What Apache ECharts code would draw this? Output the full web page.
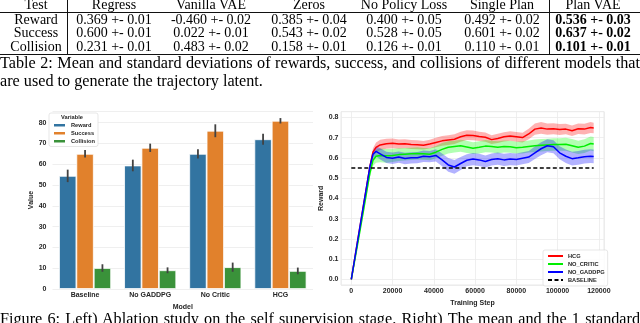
<!DOCTYPE html>
<html>
<head>
<meta charset="utf-8">
<script src="https://cdn.jsdelivr.net/npm/echarts@6/dist/echarts.min.js"></script>
<style>
  body { margin: 0; background: #fff; }
  #page { position: relative; width: 640px; height: 323px; overflow: hidden; font-family: 'Liberation Serif', 'DejaVu Serif', serif; color: #000; }
  #chart-area { position: absolute; left: 0; top: 0; width: 640px; height: 323px; }
  .cell { position: absolute; font-size: 14px; line-height: 14px; white-space: nowrap; transform: translateX(-50%); }
  .bold { font-weight: bold; }
  .rule { position: absolute; background: #111; }
  .line { position: absolute; left: 0; width: 640px; font-size: 16.2px; line-height: 18px; white-space: nowrap; }
  .justify { text-align: justify; text-align-last: justify; }
</style>
</head>
<body>
<div id="page">
  <div id="chart-area"></div>
  <div id="table"></div>
  <div class="line justify" style="top:54px">Table 2: Mean and standard deviations of rewards, success, and collisions of different models that</div>
  <div class="line" style="top:72px">are used to generate the trajectory latent.</div>
  <div class="line justify" style="top:310px">Figure 6: Left) Ablation study on the self supervision stage. Right) The mean and the 1 standard</div>
</div>

<script>
// table 2
const tableHeader = ['Test', 'Regress', 'Vanilla VAE', 'Zeros', 'No Policy Loss', 'Single Plan', 'Plan VAE']
const tableRows = [
  ['Reward', '0.369 +- 0.01', '-0.460 +- 0.02', '0.385 +- 0.04', '0.400 +- 0.05', '0.492 +- 0.02', '0.536 +- 0.03'],
  ['Success', '0.600 +- 0.01', '0.022 +- 0.01', '0.543 +- 0.02', '0.528 +- 0.05', '0.601 +- 0.02', '0.637 +- 0.02'],
  ['Collision', '0.231 +- 0.01', '0.483 +- 0.02', '0.158 +- 0.01', '0.126 +- 0.01', '0.110 +- 0.01', '0.101 +- 0.01']
]

// left panel: ablation bars
const models = ['Baseline', 'No GADDPG', 'No Critic', 'HCG']
const rewardMean = [54.4, 59.4, 65.0, 72.0]
const rewardErr = [3.0, 2.8, 2.2, 2.6]
const successMean = [65.0, 67.9, 76.1, 80.9]
const successErr = [1.8, 2.0, 3.1, 1.3]
const collisionMean = [10.1, 9.0, 10.5, 8.7]
const collisionErr = [1.8, 1.4, 2.2, 1.6]

// right panel: reward during training
const steps = [0, 3000, 6000, 9000, 10500, 12000, 14000, 17000, 20000, 23000,
  26000, 29000, 32000, 35000, 38000, 41000, 44000, 47000, 50000, 53000,
  56000, 59000, 62000, 65000, 68000, 71000, 74000, 77000, 80000, 83000,
  86000, 89000, 92000, 95000, 98000, 101000, 104000, 107000, 110000, 113000,
  116000, 117500]
const hcgMean = [0, 0.186, 0.372, 0.556, 0.628, 0.652, 0.664, 0.670, 0.672, 0.668,
  0.670, 0.666, 0.665, 0.662, 0.668, 0.676, 0.684, 0.688, 0.692, 0.704,
  0.712, 0.711, 0.706, 0.702, 0.690, 0.696, 0.704, 0.708, 0.704, 0.700,
  0.718, 0.742, 0.748, 0.742, 0.744, 0.740, 0.742, 0.734, 0.744, 0.742,
  0.750, 0.748]
const hcgStd = [0, 0.006, 0.010, 0.015, 0.020, 0.024, 0.025, 0.025, 0.024, 0.023,
  0.022, 0.022, 0.022, 0.021, 0.022, 0.023, 0.024, 0.024, 0.024, 0.025,
  0.024, 0.024, 0.023, 0.023, 0.022, 0.023, 0.023, 0.024, 0.024, 0.024,
  0.026, 0.028, 0.029, 0.028, 0.027, 0.027, 0.026, 0.026, 0.026, 0.027,
  0.027, 0.026]
const noCriticMean = [0, 0.170, 0.345, 0.525, 0.588, 0.608, 0.612, 0.610, 0.612, 0.616,
  0.618, 0.620, 0.622, 0.620, 0.618, 0.628, 0.642, 0.652, 0.656, 0.660,
  0.654, 0.648, 0.652, 0.658, 0.656, 0.652, 0.656, 0.655, 0.650, 0.652,
  0.656, 0.660, 0.662, 0.664, 0.666, 0.666, 0.667, 0.660, 0.652, 0.658,
  0.671, 0.668]
const noCriticStd = [0, 0.008, 0.012, 0.020, 0.028, 0.032, 0.034, 0.034, 0.033, 0.032,
  0.031, 0.030, 0.030, 0.029, 0.030, 0.030, 0.031, 0.030, 0.029, 0.030,
  0.030, 0.029, 0.030, 0.030, 0.029, 0.030, 0.030, 0.030, 0.029, 0.030,
  0.030, 0.031, 0.031, 0.030, 0.031, 0.031, 0.032, 0.033, 0.033, 0.034,
  0.035, 0.035]
const noGaddpgMean = [0, 0.186, 0.372, 0.556, 0.618, 0.632, 0.620, 0.602, 0.598, 0.604,
  0.597, 0.600, 0.601, 0.608, 0.606, 0.612, 0.590, 0.565, 0.555, 0.572,
  0.588, 0.594, 0.590, 0.582, 0.592, 0.596, 0.590, 0.594, 0.592, 0.598,
  0.604, 0.625, 0.645, 0.660, 0.655, 0.625, 0.608, 0.596, 0.600, 0.606,
  0.608, 0.607]
const noGaddpgStd = [0, 0.006, 0.010, 0.015, 0.020, 0.025, 0.028, 0.028, 0.028, 0.028,
  0.028, 0.028, 0.028, 0.028, 0.028, 0.030, 0.032, 0.034, 0.034, 0.032,
  0.030, 0.030, 0.030, 0.030, 0.030, 0.030, 0.030, 0.030, 0.030, 0.030,
  0.030, 0.031, 0.032, 0.032, 0.032, 0.032, 0.033, 0.034, 0.034, 0.034,
  0.034, 0.034]
const baselineSteps = [0, 117500]
const baselineReward = [0.55, 0.55]

// ---- table (html text) ----
const colCenters = [36, 114, 211, 309, 404, 502, 593]
const rowCenters = [5, 19.5, 33, 46.5]
const tableBox = document.getElementById('table')
function addCell(text, x, y, bold) {
  const d = document.createElement('div')
  d.className = 'cell' + (bold ? ' bold' : '')
  d.style.left = x + 'px'
  d.style.top = (y - 7) + 'px'
  d.textContent = text
  tableBox.appendChild(d)
}
function addRule(l, t, w, h) {
  const d = document.createElement('div')
  d.className = 'rule'
  d.style.cssText = `left:${l}px;top:${t}px;width:${w}px;height:${h}px`
  tableBox.appendChild(d)
}
tableHeader.forEach((h, c) => addCell(h, colCenters[c], rowCenters[0], false))
tableRows.forEach((row, r) => {
  row.forEach((v, c) => addCell(v, colCenters[c], rowCenters[r + 1], c === 6))
})
addRule(0, 11.5, 640, 1)
addRule(0, 54, 640, 1)
addRule(67, 0, 1, 55)
addRule(549, 0, 1, 55)

// ---- charts ----
const tickFont = { fontSize: 7, fontWeight: 'bold', color: '#262626', fontFamily: 'Liberation Sans' }
const legendFont = { fontSize: 5.7, fontWeight: 'bold', color: '#262626', fontFamily: 'Liberation Sans' }

function barSeries(name, data, color) {
  return {
    name: name,
    type: 'bar',
    xAxisIndex: 0,
    yAxisIndex: 0,
    data: data,
    barGap: '0%',
    barCategoryGap: '20%',
    itemStyle: { color: color, borderColor: '#fff', borderWidth: 0.8 },
    z: 2
  }
}

// k = bar position in its group (0,1,2)
function errSeries(k, mean, err) {
  return {
    type: 'custom',
    xAxisIndex: 0,
    yAxisIndex: 0,
    silent: true,
    z: 4,
    data: mean.map((m, i) => [i, m - err[i], m + err[i]]),
    encode: { x: 0, y: [1, 2] },
    renderItem: function (params, api) {
      const bw = api.size([1, 0])[0] * 0.8 / 3
      const off = (k - 1) * bw
      const lo = api.coord([api.value(0), api.value(1)])
      const hi = api.coord([api.value(0), api.value(2)])
      return {
        type: 'line',
        shape: { x1: lo[0] + off, y1: lo[1], x2: hi[0] + off, y2: hi[1] },
        style: { stroke: '#424242', lineWidth: 1.8 }
      }
    }
  }
}

function bandSeries(mean, std, color) {
  return {
    type: 'custom',
    xAxisIndex: 1,
    yAxisIndex: 1,
    silent: true,
    z: 1,
    data: steps.map((s, i) => [s, mean[i] - std[i], mean[i] + std[i]]),
    encode: { x: 0, y: [1, 2] },
    renderItem: function (params, api) {
      if (params.dataIndex !== 0) return null
      const up = []
      const dn = []
      for (let i = 0; i < steps.length; i++) {
        up.push(api.coord([steps[i], mean[i] + std[i]]))
        dn.push(api.coord([steps[i], mean[i] - std[i]]))
      }
      return {
        type: 'polygon',
        shape: { points: up.concat(dn.reverse()) },
        style: { fill: color }
      }
    }
  }
}

function lineSeries(name, xs, ys, color, dashed) {
  return {
    name: name,
    type: 'line',
    xAxisIndex: 1,
    yAxisIndex: 1,
    data: xs.map((s, i) => [s, ys[i]]),
    symbol: 'none',
    showSymbol: false,
    lineStyle: { color: color, width: 1.5, type: dashed ? [4, 2.5] : 'solid' },
    itemStyle: { color: color },
    z: 3
  }
}

const chart = echarts.init(document.getElementById('chart-area'), null, { renderer: 'canvas' })
chart.setOption({
  animation: false,
  grid: [
    { left: 52.5, top: 111, width: 260.5, height: 178 },
    { left: 341, top: 111.7, width: 263, height: 173.3, show: true, borderColor: '#e3e3e3', borderWidth: 0.8, backgroundColor: '#fff' }
  ],
  xAxis: [
    {
      type: 'category',
      gridIndex: 0,
      data: models,
      axisTick: { show: false },
      axisLine: { show: false },
      axisLabel: Object.assign({ margin: 2.5 }, tickFont),
      name: 'Model',
      nameLocation: 'middle',
      nameGap: 8,
      nameTextStyle: tickFont
    },
    {
      type: 'value',
      gridIndex: 1,
      min: -5000,
      max: 122500,
      splitNumber: 6,
      axisTick: { show: false },
      axisLine: { show: false },
      axisLabel: Object.assign({
        margin: 3,
        showMinLabel: false,
        showMaxLabel: false,
        formatter: v => (v % 20000 === 0 ? String(v) : '')
      }, tickFont),
      splitLine: { show: true, lineStyle: { color: '#ebebeb', width: 0.8 } },
      name: 'Training Step',
      nameLocation: 'middle',
      nameGap: 11,
      nameTextStyle: tickFont
    }
  ],
  yAxis: [
    {
      type: 'value',
      gridIndex: 0,
      min: 0,
      max: 85.6,
      interval: 10,
      axisTick: { show: false },
      axisLine: { show: false },
      axisLabel: Object.assign({ margin: 6, showMaxLabel: false }, tickFont),
      splitLine: { lineStyle: { color: '#ebebeb', width: 0.8 } },
      name: 'Value',
      nameLocation: 'middle',
      nameGap: 15,
      nameTextStyle: tickFont
    },
    {
      type: 'value',
      gridIndex: 1,
      min: -0.028,
      max: 0.828,
      splitNumber: 8,
      axisTick: { show: false },
      axisLine: { show: false },
      axisLabel: Object.assign({
        margin: 2.5,
        showMinLabel: false,
        showMaxLabel: false,
        formatter: v => (Math.abs(v * 10 - Math.round(v * 10)) < 1e-6 ? v.toFixed(1) : '')
      }, tickFont),
      splitLine: { lineStyle: { color: '#ebebeb', width: 0.8 } },
      name: 'Reward',
      nameLocation: 'middle',
      nameGap: 16,
      nameTextStyle: tickFont
    }
  ],
  legend: [
    {
      data: ['Reward', 'Success', 'Collision'],
      orient: 'vertical',
      left: 49,
      top: 113,
      padding: [9, 3, 2, 3],
      itemWidth: 13,
      itemHeight: 4.5,
      itemGap: 1.5,
      icon: 'rect',
      textStyle: legendFont,
      borderColor: '#dcdcdc',
      borderWidth: 0.7,
      borderRadius: 2,
      backgroundColor: '#fff'
    },
    {
      data: ['HCG', 'NO_CRITIC', 'NO_GADDPG', 'BASELINE'],
      orient: 'vertical',
      left: 543,
      top: 250,
      padding: [3, 3, 3, 4],
      itemWidth: 15,
      itemHeight: 6,
      itemGap: 2,
      itemStyle: { opacity: 0 },
      textStyle: legendFont,
      borderColor: '#dcdcdc',
      borderWidth: 0.7,
      borderRadius: 2,
      backgroundColor: 'rgba(255,255,255,0.85)'
    }
  ],
  graphic: [
    {
      type: 'text',
      x: 72,
      y: 117,
      z: 100,
      style: { text: 'Variable', align: 'center', verticalAlign: 'middle', fontSize: 5.7, fontWeight: 'bold', fontFamily: 'Liberation Sans', fill: '#262626' }
    }
  ],
  series: [
    barSeries('Reward', rewardMean, '#3274a1'),
    barSeries('Success', successMean, '#e1812c'),
    barSeries('Collision', collisionMean, '#3a923a'),
    errSeries(0, rewardMean, rewardErr),
    errSeries(1, successMean, successErr),
    errSeries(2, collisionMean, collisionErr),
    bandSeries(hcgMean, hcgStd, 'rgba(255,0,0,0.3)'),
    bandSeries(noCriticMean, noCriticStd, 'rgba(0,255,0,0.3)'),
    bandSeries(noGaddpgMean, noGaddpgStd, 'rgba(0,0,255,0.3)'),
    lineSeries('HCG', steps, hcgMean, '#ff0000', false),
    lineSeries('NO_CRITIC', steps, noCriticMean, '#00ee00', false),
    lineSeries('NO_GADDPG', steps, noGaddpgMean, '#0000ff', false),
    lineSeries('BASELINE', baselineSteps, baselineReward, '#000000', true)
  ]
})
</script>
</body>
</html>
